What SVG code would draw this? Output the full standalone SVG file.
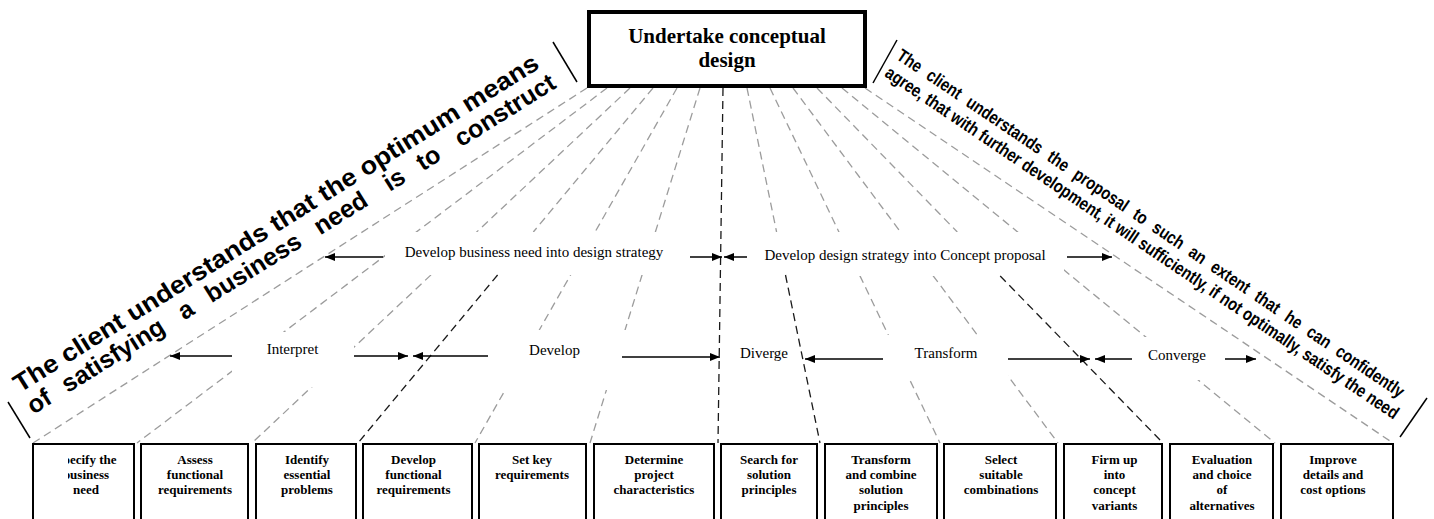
<svg xmlns="http://www.w3.org/2000/svg" width="1434" height="519" viewBox="0 0 1434 519">
<style>
.g{stroke:#9c9c9c;stroke-width:1.3;stroke-dasharray:8 5;fill:none}
.d{stroke:#1a1a1a;stroke-width:1.3;stroke-dasharray:8 5;fill:none}
.a{stroke:#000;stroke-width:1.5;fill:none;marker-end:url(#ah)}
.br{stroke:#000;stroke-width:1.5}
.lbl{font-family:"Liberation Serif","Times New Roman",serif;font-size:15px;fill:#000;text-anchor:middle}
.bx{fill:#fff;stroke:#000;stroke-width:2}
.bt{font-family:"Liberation Serif","Times New Roman",serif;font-size:13px;font-weight:bold;fill:#000;text-anchor:middle}
.rl{font-family:"Liberation Sans",Arial,sans-serif;font-size:25px;font-weight:bold;fill:#000}
.rr{font-family:"Liberation Sans",Arial,sans-serif;font-size:18px;font-weight:bold;fill:#000}
.wb{fill:#fff}
</style>
<defs>
<marker id="ah" viewBox="0 0 10 8" refX="10" refY="4" markerWidth="10" markerHeight="8" markerUnits="userSpaceOnUse" orient="auto"><path d="M0,0 L10,4 L0,8 z" fill="#000"/></marker>
<clipPath id="c1"><rect x="68" y="444" width="66" height="80"/></clipPath>
</defs>
<rect width="1434" height="519" fill="#fff"/>
<g id="connectors">
<line class="g" x1="587" y1="88" x2="33" y2="443"/>
<line class="g" x1="607" y1="88" x2="137" y2="443"/>
<line class="g" x1="630" y1="88" x2="252" y2="443"/>
<line class="g" x1="653" y1="88" x2="533.3" y2="232"/>
<line class="g" x1="677" y1="88" x2="475" y2="443"/>
<line class="g" x1="700" y1="88" x2="590" y2="443"/>
<line class="g" x1="747" y1="88" x2="776.6" y2="232"/>
<line class="g" x1="770" y1="88" x2="940" y2="443"/>
<line class="g" x1="793" y1="88" x2="1058" y2="443"/>
<line class="g" x1="817" y1="88" x2="957.3" y2="232"/>
<line class="g" x1="842" y1="88" x2="1275" y2="443"/>
<line class="g" x1="865" y1="88" x2="1393" y2="443"/>
<rect class="wb" x="385" y="232" width="305" height="43"/>
<rect class="wb" x="748" y="232" width="316" height="44"/>
<rect class="wb" x="232" y="332" width="122" height="55"/>
<rect class="wb" x="488" y="330" width="138" height="60"/>
<rect class="wb" x="883" y="335" width="125" height="45"/>
<rect class="wb" x="1132" y="337" width="93" height="43"/>
<line class="d" x1="723" y1="88" x2="718" y2="443"/>
<line class="d" x1="497.6" y1="275" x2="358" y2="443"/>
<line class="d" x1="785.5" y1="275" x2="820" y2="443"/>
<line class="d" x1="1000.2" y1="276" x2="1163" y2="443"/>
<line class="a" x1="383" y1="257" x2="325" y2="257"/>
<line class="a" x1="690" y1="257" x2="722" y2="257"/>
<line class="a" x1="747" y1="257" x2="724" y2="257"/>
<line class="a" x1="1067" y1="257" x2="1112" y2="257"/>
<line class="a" x1="232" y1="356" x2="170" y2="356"/>
<line class="a" x1="354" y1="356" x2="408" y2="356"/>
<line class="a" x1="488" y1="356" x2="413" y2="356"/>
<line class="a" x1="622" y1="357" x2="720" y2="357"/>
<line class="a" x1="883" y1="359" x2="805" y2="359"/>
<line class="a" x1="1008" y1="359" x2="1090" y2="359"/>
<line class="a" x1="1132" y1="359" x2="1095" y2="359"/>
<line class="a" x1="1225" y1="359" x2="1256" y2="359"/>
</g>
<g id="labels">
<text class="lbl" x="534" y="257">Develop business need into design strategy</text>
<text class="lbl" x="905" y="260">Develop design strategy into Concept proposal</text>
<text class="lbl" x="292.5" y="354">Interpret</text>
<text class="lbl" x="554.5" y="355">Develop</text>
<text class="lbl" x="764" y="358">Diverge</text>
<text class="lbl" x="946" y="358">Transform</text>
<text class="lbl" x="1177" y="360">Converge</text>
</g>
<g id="top">
<rect x="589" y="12" width="276" height="74" fill="#fff" stroke="#000" stroke-width="4"/>
<text x="727" y="43" font-family="'Liberation Serif','Times New Roman',serif" font-size="21" font-weight="bold" text-anchor="middle">Undertake conceptual</text>
<text x="727" y="67" font-family="'Liberation Serif','Times New Roman',serif" font-size="21" font-weight="bold" text-anchor="middle">design</text>
</g>
<g id="left-note">
<line class="br" x1="8" y1="402" x2="30" y2="438"/>
<line class="br" x1="553" y1="42" x2="577" y2="82"/>
<g transform="translate(20,393) rotate(-32)">
<text class="rl" x="0" y="0" textLength="614" lengthAdjust="spacingAndGlyphs">The client understands that the optimum means</text>
<text class="rl" y="25.5"><tspan x="0">of</tspan><tspan x="40.5">satisfying</tspan><tspan x="177.7">a</tspan><tspan x="210">business</tspan><tspan x="338">need</tspan><tspan x="420">is</tspan><tspan x="459">to</tspan><tspan x="504">construct</tspan></text>
</g>
</g>
<g id="right-note">
<line class="br" x1="873" y1="83" x2="897" y2="40"/>
<line class="br" x1="1400" y1="437" x2="1427" y2="398"/>
<g transform="translate(873,83) rotate(34) scale(0.82,1)">
<text class="rr" x="6.1" y="-33" textLength="741" lengthAdjust="spacing" style="word-spacing:6.5px">The client understands the proposal to such an extent that he can confidently</text>
<text class="rr" x="6.1" y="-12" textLength="750" lengthAdjust="spacingAndGlyphs">agree, that with further development, it will sufficiently, if not optimally, satisfy the need</text>
</g>
</g>
<g id="n1"><rect class="bx" x="33" y="444" width="101" height="100"/><g clip-path="url(#c1)"><text class="bt" x="86" y="464">Specify the</text><text class="bt" x="86" y="479">business</text><text class="bt" x="86" y="494">need</text></g></g>
<g id="n2"><rect class="bx" x="141" y="444" width="107" height="100"/><text class="bt" x="195" y="464">Assess</text><text class="bt" x="195" y="479">functional</text><text class="bt" x="195" y="494">requirements</text></g>
<g id="n3"><rect class="bx" x="256" y="444" width="100" height="100"/><text class="bt" x="307" y="464">Identify</text><text class="bt" x="307" y="479">essential</text><text class="bt" x="307" y="494">problems</text></g>
<g id="n4"><rect class="bx" x="363" y="444" width="109" height="100"/><text class="bt" x="413.5" y="464">Develop</text><text class="bt" x="413.5" y="479">functional</text><text class="bt" x="413.5" y="494">requirements</text></g>
<g id="n5"><rect class="bx" x="479" y="444" width="107" height="100"/><text class="bt" x="532" y="464">Set key</text><text class="bt" x="532" y="479">requirements</text></g>
<g id="n6"><rect class="bx" x="594" y="444" width="120" height="100"/><text class="bt" x="654" y="464">Determine</text><text class="bt" x="654" y="479">project</text><text class="bt" x="654" y="494">characteristics</text></g>
<g id="n7"><rect class="bx" x="721" y="444" width="96" height="100"/><text class="bt" x="769" y="464">Search for</text><text class="bt" x="769" y="479">solution</text><text class="bt" x="769" y="494">principles</text></g>
<g id="n8"><rect class="bx" x="825" y="444" width="112" height="100"/><text class="bt" x="881" y="464">Transform</text><text class="bt" x="881" y="479">and combine</text><text class="bt" x="881" y="494">solution</text><text class="bt" x="881" y="509.5">principles</text></g>
<g id="n9"><rect class="bx" x="944" y="444" width="112" height="100"/><text class="bt" x="1001" y="464">Select</text><text class="bt" x="1001" y="479">suitable</text><text class="bt" x="1001" y="494">combinations</text></g>
<g id="n10"><rect class="bx" x="1064" y="444" width="98" height="100"/><text class="bt" x="1114.5" y="464">Firm up</text><text class="bt" x="1114.5" y="479">into</text><text class="bt" x="1114.5" y="494">concept</text><text class="bt" x="1114.5" y="509.5">variants</text></g>
<g id="n11"><rect class="bx" x="1170" y="444" width="103" height="100"/><text class="bt" x="1222" y="464">Evaluation</text><text class="bt" x="1222" y="479">and choice</text><text class="bt" x="1222" y="494">of</text><text class="bt" x="1222" y="509.5">alternatives</text></g>
<g id="n12"><rect class="bx" x="1281" y="444" width="112" height="100"/><text class="bt" x="1333" y="464">Improve</text><text class="bt" x="1333" y="479">details and</text><text class="bt" x="1333" y="494">cost options</text></g>
</svg>
